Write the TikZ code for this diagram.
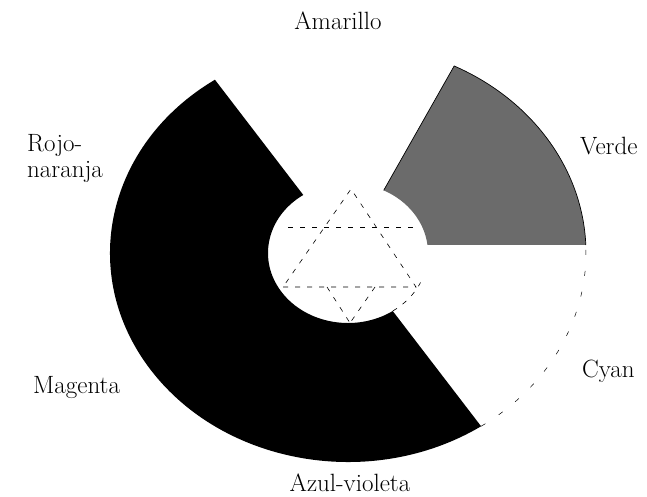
\documentclass[tikz,border=0pt]{standalone}
\usetikzlibrary{calc}
\begin{document}
\begin{tikzpicture}[x=1pt,y=1pt,
  lab/.style={font=\fontsize{25}{30}\selectfont, inner sep=0pt},
  tri/.style={line width=0.6pt, dash pattern=on 5pt off 7pt},
  cyanarc/.style={line width=0.5pt, dash pattern=on 5pt off 16pt},
  outer/.style={x radius=238pt, y radius=209pt},
  inner/.style={x radius=80pt, y radius=70pt}]
\useasboundingbox (0,0) rectangle (647,496);
\fill[white] (0,0) rectangle (647,496);
\coordinate (C) at (348,243);
% black half ring
\fill[black] ($(C)+(124:238pt and 209pt)$) arc[start angle=124,end angle=304,outer]
  -- ($(C)+(304:80pt and 70pt)$) arc[start angle=304,end angle=124,inner] -- cycle;
% grey sector (Verde)
\fill[black!58] ($(C)+(2.2:238pt and 209pt)$) arc[start angle=2.2,end angle=63.5,outer]
  -- ($(C)+(63.5:80pt and 70pt)$) arc[start angle=63.5,end angle=6.6,inner] -- cycle;
\draw[line width=0.7pt] ($(C)+(2.2:238pt and 209pt)$) arc[start angle=2.2,end angle=63.5,outer]
  -- ($(C)+(63.5:80pt and 70pt)$);
% cyan sector outline
\draw[cyanarc] ($(C)+(-56:238pt and 209pt)$) arc[start angle=-56,end angle=2.2,outer];
\draw[tri] ($(C)+(-56:80pt and 70pt)$) arc[start angle=-56,end angle=-25,inner];
% triangles
\coordinate (T1) at (283,209);
\coordinate (T2) at (416,209);
\coordinate (T3) at (351,307);
\draw[tri] (T1) -- (T2) -- (T3) -- cycle;
\coordinate (H1) at (288,269);
\coordinate (H2) at (417,269);
\draw[tri] (H1) -- (H2);
\coordinate (D) at (350,173);
\coordinate (DL) at (327,209);
\coordinate (DR) at (375,209);
\draw[tri] (DL) -- (D);
\draw[tri] (DR) -- (D);
% labels
\node[lab, anchor=base] (amarillo) at (338,466) {Amarillo};
\node[lab, anchor=base west] (verde) at (580,341) {Verde};
\node[lab, anchor=base west] (cyan) at (582,119) {Cyan};
\node[lab, anchor=base west] (rojo) at (27,344) {Rojo-};
\node[lab, anchor=base west] (naranja) at (27,318) {naranja};
\node[lab, anchor=base west] (magenta) at (33,103) {Magenta};
\node[lab, anchor=base] (azul) at (350,5) {Azul-violeta};
\end{tikzpicture}
\end{document}
